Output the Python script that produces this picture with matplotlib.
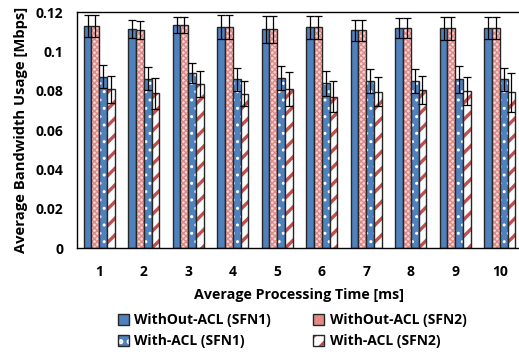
import numpy as np
import matplotlib
matplotlib.use("Agg")
import matplotlib.pyplot as plt
from matplotlib.patches import Patch
from matplotlib.legend_handler import HandlerTuple

plt.rcParams["font.family"] = ["Open Sans", "DejaVu Sans"]
plt.rcParams["font.weight"] = "bold"
plt.rcParams["hatch.linewidth"] = 1.0

# Data
times = [1, 2, 3, 4, 5, 6, 7, 8, 9, 10]
no_acl_sfn1 = [0.1129, 0.1112, 0.1134, 0.1125, 0.1112, 0.1122, 0.1107, 0.1117, 0.1117, 0.1117]
no_acl_sfn2 = [0.1129, 0.1110, 0.1134, 0.1125, 0.1112, 0.1122, 0.1107, 0.1117, 0.1117, 0.1117]
err_no_acl = [0.0057, 0.0045, 0.0040, 0.0060, 0.0068, 0.0060, 0.0052, 0.0050, 0.0060, 0.0056]
acl_sfn1 = [0.0871, 0.0861, 0.0891, 0.0857, 0.0864, 0.0837, 0.0849, 0.0850, 0.0857, 0.0857]
err_acl_sfn1 = [0.0057, 0.0058, 0.0050, 0.0057, 0.0063, 0.0064, 0.0060, 0.0060, 0.0068, 0.0057]
acl_sfn2 = [0.0807, 0.0786, 0.0834, 0.0785, 0.0810, 0.0769, 0.0795, 0.0803, 0.0798, 0.0792]
err_acl_sfn2 = [0.0070, 0.0080, 0.0066, 0.0064, 0.0086, 0.0080, 0.0073, 0.0070, 0.0073, 0.0100]

labels = ["WithOut-ACL (SFN1)", "WithOut-ACL (SFN2)", "With-ACL (SFN1)", "With-ACL (SFN2)"]

blue = "#4f81bd"
red = "#c0504d"
edge = "#262626"

# (face, hatch, hatch colour) per series
styles = [
    (blue, None, None),
    ("#f6d3d2", "xxxxxx", "#e08a88"),
    (blue, "..", "white"),
    ("white", "//", red),
]
series = [
    (no_acl_sfn1, err_no_acl),
    (no_acl_sfn2, err_no_acl),
    (acl_sfn1, err_acl_sfn1),
    (acl_sfn2, err_acl_sfn2),
]

fig = plt.figure(figsize=(5.19, 3.52), dpi=100)
ax = fig.add_axes([77 / 519, 1 - 248 / 352, 445 / 519, 236 / 352])

x = np.array(times, dtype=float)
w = 0.175
handles = []
for i, ((vals, errs), (face, hatch, hcol)) in enumerate(zip(series, styles)):
    pos = x + (i - 1.5) * w
    if hatch:
        plt.rcParams["hatch.linewidth"] = 2.4 if hatch == "//" else 1.0
        ax.bar(pos, vals, w, color=face, hatch=hatch, edgecolor=hcol, linewidth=0)
        hp = Patch(facecolor=face, hatch=hatch, edgecolor=hcol, linewidth=0)
    else:
        ax.bar(pos, vals, w, color=face, linewidth=0)
        hp = Patch(facecolor=face, linewidth=0)
    ax.bar(pos, vals, w, facecolor="none", edgecolor=edge, linewidth=1.0)
    ax.errorbar(pos, vals, yerr=errs, fmt="none", ecolor="black",
                elinewidth=0.9, capsize=3, capthick=0.9)
    handles.append((hp, Patch(facecolor="none", edgecolor=edge, linewidth=1.0)))

ax.set_xlim(0.5, 10.5)
ax.set_ylim(0, 0.12)
ax.set_xticks(times)
ax.set_xticklabels([str(t) for t in times], fontsize=10, fontweight="bold")
ax.set_yticks([0, 0.02, 0.04, 0.06, 0.08, 0.1, 0.12])
ax.set_yticklabels(["0", "0.02", "0.04", "0.06", "0.08", "0.1", "0.12"],
                   fontsize=10, fontweight="bold")
ax.tick_params(axis="x", length=0, pad=12)
ax.tick_params(axis="y", length=0, pad=10)
for s in ["left", "bottom", "top"]:
    ax.spines[s].set_linewidth(1.0)
    ax.spines[s].set_color("black")
ax.spines["right"].set_visible(False)

ax.set_xlabel("Average Processing Time [ms]", fontsize=10.3, fontweight="bold", labelpad=7)
ax.set_ylabel("Average Bandwidth Usage [Mbps]", fontsize=10.6, fontweight="bold", labelpad=5)

order = [0, 2, 1, 3]
fig.legend([handles[k] for k in order], [labels[k] for k in order],
           handler_map={tuple: HandlerTuple(ndivide=1)},
           ncol=2, loc="center", bbox_to_anchor=(0.563, 0.06), frameon=False,
           handlelength=0.8, handleheight=0.8, handletextpad=0.4,
           columnspacing=3.05, labelspacing=0.5,
           prop={"weight": "bold", "size": 10})

fig.savefig("out.png", dpi=100)
